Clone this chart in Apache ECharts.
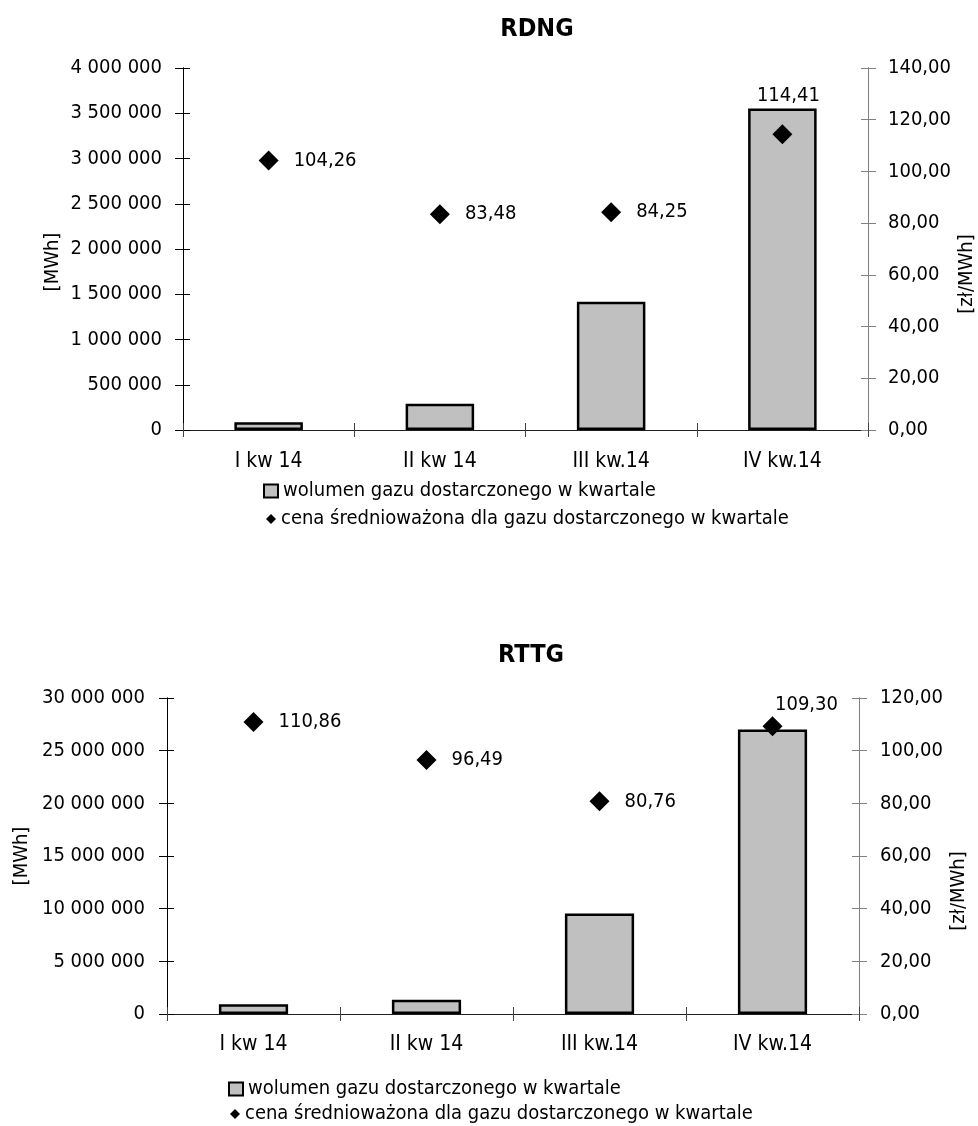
<!DOCTYPE html>
<html>
<head>
<meta charset="utf-8">
<script src="https://cdn.jsdelivr.net/npm/echarts@6/dist/echarts.min.js"></script>
<style>html,body{margin:0;padding:0;background:#fff}#c{width:978px;height:1126px}</style>
</head>
<body>
<div id="c"></div>
<script>
const categories = ['I kw 14', 'II kw 14', 'III kw.14', 'IV kw.14'];
const volumeName = 'wolumen gazu dostarczonego w kwartale';
const priceName = 'cena średnioważona dla gazu dostarczonego w kwartale';
const rdngTitle = 'RDNG';
const rttgTitle = 'RTTG';
const rdngVolume = [85000, 291000, 1418000, 3553000];
const rdngPrice = [104.26, 83.48, 84.25, 114.41];
const rttgVolume = [920000, 1360000, 9530000, 27020000];
const rttgPrice = [110.86, 96.49, 80.76, 109.30];
const rdngLeftTicks = {min: 0, max: 4000000, interval: 500000};
const rdngRightTicks = {min: 0, max: 140, interval: 20};
const rttgLeftTicks = {min: 0, max: 30000000, interval: 5000000};
const rttgRightTicks = {min: 0, max: 120, interval: 20};

const FONT = "'DejaVu Sans Condensed', 'Noto Sans', sans-serif";
const FS = 20;
const fmtInt = v => String(Math.round(v)).replace(/\B(?=(\d{3})+(?!\d))/g, ' ');
const fmtDec = v => v.toFixed(2).replace('.', ',');

const chart = echarts.init(document.getElementById('c'), null, {renderer: 'canvas'});

const grids = [
  {left: 183, right: 110, top: 68, height: 362},
  {left: 167, right: 119, top: 698, height: 316}
];

function yAxes(gi, t, side, labelFmt, color, margin) {
  const base = {
    type: 'value', gridIndex: gi, position: side, min: t.min, max: t.max, interval: t.interval,
    splitLine: {show: false},
    axisLine: {show: true, lineStyle: {color: color, width: 1}}
  };
  return [
    Object.assign({}, base, {
      axisTick: {show: true, inside: false, length: 8, lineStyle: {color: color}},
      axisLabel: {show: true, margin: margin, color: '#000', fontFamily: FONT, fontSize: FS, formatter: labelFmt}
    }),
    Object.assign({}, base, {
      axisTick: {show: true, inside: true, length: 7, lineStyle: {color: color}},
      axisLabel: {show: false}
    })
  ];
}

function xAxes(gi, margin) {
  const base = {
    type: 'category', gridIndex: gi, data: categories, position: 'bottom', boundaryGap: true,
    axisLine: {show: true, onZero: false, lineStyle: {color: '#202020', width: 1}},
    splitLine: {show: false}
  };
  return [
    Object.assign({}, base, {
      axisTick: {show: true, inside: false, length: 7, alignWithLabel: false, lineStyle: {color: '#404040'}},
      axisLabel: {show: true, margin: margin, color: '#000', fontFamily: FONT, fontSize: 21}
    }),
    Object.assign({}, base, {
      axisTick: {show: true, inside: true, length: 7, alignWithLabel: false, lineStyle: {color: '#404040'}},
      axisLabel: {show: false}
    })
  ];
}

const xAxis = [...xAxes(0, 21), ...xAxes(1, 20)];
const yAxis = [
  ...yAxes(0, rdngLeftTicks, 'left', fmtInt, '#000', 21),
  ...yAxes(0, rdngRightTicks, 'right', fmtDec, '#808080', 20),
  ...yAxes(1, rttgLeftTicks, 'left', fmtInt, '#000', 22),
  ...yAxes(1, rttgRightTicks, 'right', fmtDec, '#808080', 21)
];
// y axis indices: 0,1 rdng left; 2,3 rdng right; 4,5 rttg left; 6,7 rttg right

function barSeries(xi, yi, values) {
  return {
    name: volumeName, type: 'bar', xAxisIndex: xi, yAxisIndex: yi, data: values,
    barWidth: '40%',
    itemStyle: {color: '#C0C0C0', borderColor: '#000', borderWidth: 2.5, opacity: 1},
    z: 2
  };
}

function priceSeries(xi, yi, values, lastOffset) {
  return {
    name: priceName, type: 'scatter', xAxisIndex: xi, yAxisIndex: yi,
    symbol: 'diamond', symbolSize: 20,
    itemStyle: {color: '#000', opacity: 1},
    z: 5,
    label: {
      show: true, position: 'right', distance: 15, color: '#000', opacity: 1,
      fontFamily: FONT, fontSize: FS, formatter: p => fmtDec(p.value)
    },
    data: values.map((v, i) => i === values.length - 1
      ? {value: v, label: {position: 'inside', offset: lastOffset}}
      : v)
  };
}

const legendText = {fontFamily: FONT, fontSize: 20, color: '#000'};

chart.setOption({
  animation: false,
  backgroundColor: '#fff',
  title: [
    {text: rdngTitle, left: 532, top: 12, textAlign: 'center',
     textStyle: {fontFamily: FONT, fontSize: 25, fontWeight: 'bold', color: '#000'}},
    {text: rttgTitle, left: 526, top: 638, textAlign: 'center',
     textStyle: {fontFamily: FONT, fontSize: 25, fontWeight: 'bold', color: '#000'}}
  ],
  grid: grids,
  xAxis: xAxis,
  yAxis: yAxis,
  legend: [
    {left: 263, top: 481, padding: 0, itemWidth: 14, itemHeight: 13, textStyle: legendText,
     data: [{name: volumeName, icon: 'rect', itemStyle: {color: '#C0C0C0', borderColor: '#000', borderWidth: 2}}]},
    {left: 266, top: 509, padding: 0, itemWidth: 10, itemHeight: 10, textStyle: legendText,
     data: [{name: priceName, icon: 'diamond', itemStyle: {color: '#000'}}]},
    {left: 228, top: 1079, padding: 0, itemWidth: 14, itemHeight: 13, textStyle: legendText,
     data: [{name: volumeName, icon: 'rect', itemStyle: {color: '#C0C0C0', borderColor: '#000', borderWidth: 2}}]},
    {left: 230, top: 1104, padding: 0, itemWidth: 10, itemHeight: 10, textStyle: legendText,
     data: [{name: priceName, icon: 'diamond', itemStyle: {color: '#000'}}]}
  ],
  graphic: [
    {type: 'text', x: 53, y: 262, rotation: Math.PI / 2,
     style: {text: '[MWh]', font: '20px ' + FONT, fill: '#000', align: 'center', verticalAlign: 'middle'}},
    {type: 'text', x: 967, y: 274, rotation: Math.PI / 2,
     style: {text: '[zł/MWh]', font: '20px ' + FONT, fill: '#000', align: 'center', verticalAlign: 'middle'}},
    {type: 'text', x: 22, y: 856, rotation: Math.PI / 2,
     style: {text: '[MWh]', font: '20px ' + FONT, fill: '#000', align: 'center', verticalAlign: 'middle'}},
    {type: 'text', x: 959, y: 891, rotation: Math.PI / 2,
     style: {text: '[zł/MWh]', font: '20px ' + FONT, fill: '#000', align: 'center', verticalAlign: 'middle'}}
  ],
  series: [
    barSeries(0, 0, rdngVolume),
    priceSeries(0, 2, rdngPrice, [6, -38]),
    barSeries(2, 4, rttgVolume),
    priceSeries(2, 6, rttgPrice, [34, -21])
  ]
});
</script>
</body>
</html>
